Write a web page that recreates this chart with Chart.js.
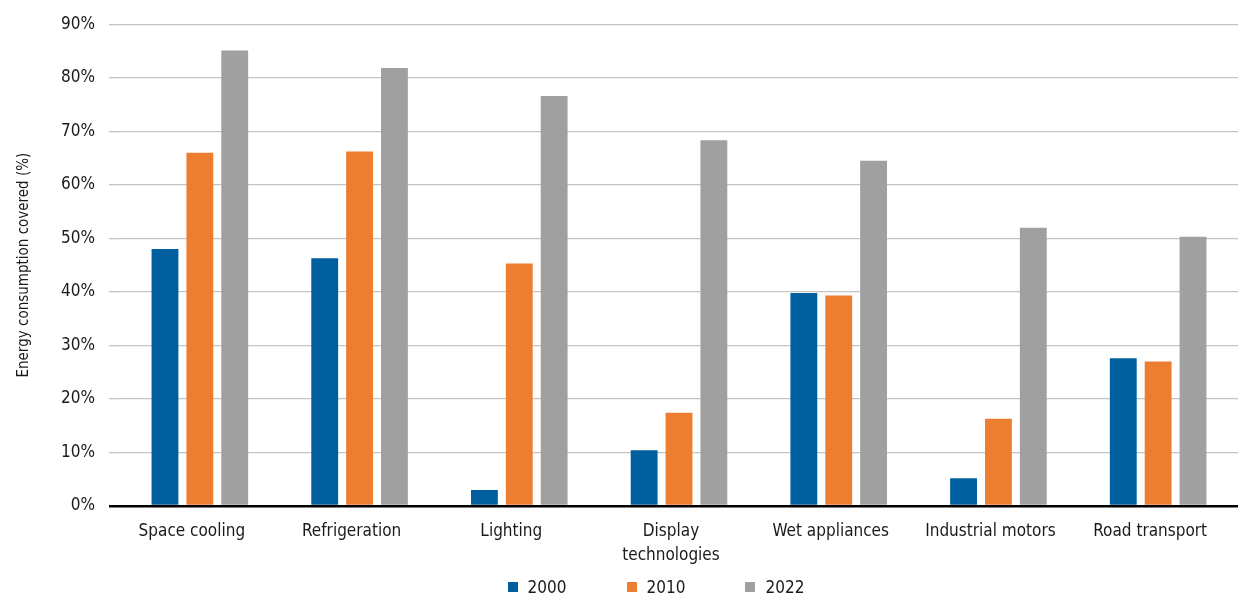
<!DOCTYPE html>
<html>
<head>
<meta charset="utf-8">
<script src="https://cdn.jsdelivr.net/npm/chart.js@4.4.1/dist/chart.umd.min.js"></script>
<style>
  html, body { margin: 0; padding: 0; background: #fff; }
  #wrap { position: relative; width: 1238px; height: 596px; }
  #legend {
    position: absolute; left: 37px; width: 1238px; top: 577px;
    display: flex; justify-content: center;
    font-family: 'Liberation Sans Narrow', 'DejaVu Sans Condensed', sans-serif;
    font-size: 17px; color: #1a1a1a;
  }
  #legend span.item { display: inline-flex; align-items: center; margin: 0 30px; }
  #legend span.box { width: 10px; height: 10px; margin-right: 10px; display: inline-block; }
</style>
</head>
<body>
<div id="wrap">
  <canvas id="chart" width="1238" height="596"></canvas>
  <div id="legend"></div>
</div>
<script>
const categories = ['Space cooling', 'Refrigeration', 'Lighting', ['Display', 'technologies'], 'Wet appliances', 'Industrial motors', 'Road transport'];
const years = ['2000', '2010', '2022'];
const values2000 = [48.0, 46.3, 3.0, 10.4, 39.8, 5.2, 27.6];
const values2010 = [66.0, 66.2, 45.3, 17.4, 39.3, 16.3, 27.0];
const values2022 = [85.1, 81.8, 76.6, 68.3, 64.5, 52.0, 50.3];
const yTicks = [0, 10, 20, 30, 40, 50, 60, 70, 80, 90];

const colors = ['#005f9f', '#ed7d31', '#a0a0a0'];
const fontFamily = "'Liberation Sans Narrow', 'DejaVu Sans Condensed', sans-serif";

const datasets = [values2000, values2010, values2022].map((vals, i) => ({
    label: years[i],
    data: vals,
    backgroundColor: colors[i],
    borderWidth: 0,
    categoryPercentage: 0.655,
    barPercentage: 0.77
}));

const ctx = document.getElementById('chart').getContext('2d');
new Chart(ctx, {
    type: 'bar',
    data: { labels: categories, datasets: datasets },
    options: {
        responsive: false,
        animation: false,
        layout: { padding: { top: 23, right: 0, left: 0, bottom: 0 } },
        plugins: {
            legend: { display: false },
            tooltip: { enabled: false }
        },
        scales: {
            x: {
                grid: { display: false },
                border: { display: false },
                ticks: {
                    color: '#1a1a1a',
                    font: { family: fontFamily, size: 17, lineHeight: 1.4 },
                    padding: 6,
                    labelOffset: -8,
                    maxRotation: 0,
                    autoSkip: false
                },
                afterFit: scale => { scale.height = 90; }
            },
            y: {
                min: 0,
                max: 90,
                afterBuildTicks: scale => { scale.ticks = yTicks.map(v => ({ value: v })); },
                border: { display: false },
                grid: {
                    color: c => c.tick && c.tick.value === 0 ? '#000' : '#c4c4c4',
                    tickColor: c => c.tick && c.tick.value === 0 ? '#000' : '#c4c4c4',
                    lineWidth: c => c.tick && c.tick.value === 0 ? 2.5 : 1.3,
                    tickWidth: c => c.tick && c.tick.value === 0 ? 2.5 : 1.3,
                    drawTicks: true,
                    tickLength: 11
                },
                ticks: {
                    color: '#1a1a1a',
                    font: { family: fontFamily, size: 17 },
                    padding: 14,
                    callback: v => v + '%'
                },
                title: {
                    display: true,
                    text: 'Energy consumption covered (%)',
                    color: '#1a1a1a',
                    font: { family: fontFamily, size: 15 },
                    padding: { top: 15, bottom: 0 }
                },
                afterFit: scale => { scale.width = 120; }
            }
        }
    }
});

const legend = document.getElementById('legend');
years.forEach((y, i) => {
    const item = document.createElement('span');
    item.className = 'item';
    item.innerHTML = `<span class="box" style="background:${colors[i]}"></span>${y}`;
    legend.appendChild(item);
});
</script>
</body>
</html>
